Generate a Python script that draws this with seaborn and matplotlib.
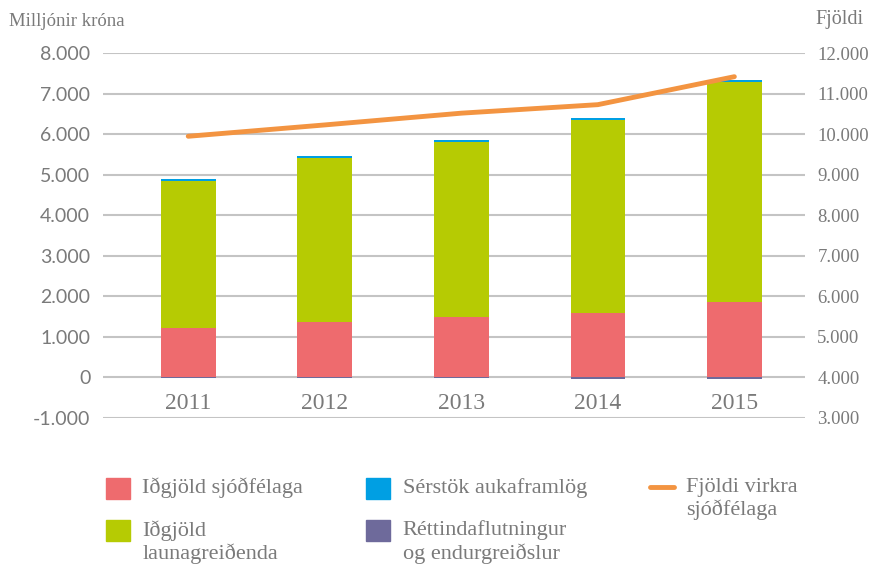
import seaborn as sns
import matplotlib.pyplot as plt
import matplotlib.ticker as mticker
from matplotlib.patches import Patch
from matplotlib.lines import Line2D
import pandas as pd

# values (millions of kronur / count)
years = ["2011", "2012", "2013", "2014", "2015"]
idgjold_sjodfelaga = [1230, 1380, 1480, 1600, 1850]
idgjold_launagreidenda = [3620, 4030, 4330, 4750, 5430]
serstok_aukaframlog = [55, 50, 50, 60, 60]
rettindaflutningur = [-10, -10, -10, -30, -30]
fjoldi_virkra = [9950, 10230, 10520, 10730, 11420]

red = "#EE6B6E"
green = "#B6CB03"
blue = "#009FE3"
purple = "#6E6A9B"
orange = "#F39441"
grey = "#7a7a7a"
serif = "Liberation Serif"

df = pd.DataFrame({
    "ar": years,
    "sjod": idgjold_sjodfelaga,
    "laun": idgjold_launagreidenda,
    "serst": serstok_aukaframlog,
    "rett": rettindaflutningur,
})
df["bottom_laun"] = df["sjod"]
df["bottom_serst"] = df["sjod"] + df["laun"]

sns.set_style("white")
fig = plt.figure(figsize=(8.71, 5.70), dpi=100)
ax = fig.add_axes([0.118, 0.2667, 0.806, 0.640])

w = 0.4
bar_kw = dict(width=w, saturation=1, ax=ax, zorder=3, linewidth=0, edgecolor="none")
sns.barplot(data=df, x="ar", y="sjod", color=red, **bar_kw)
sns.barplot(data=df, x="ar", y="laun", bottom=df["bottom_laun"], color=green, **bar_kw)
sns.barplot(data=df, x="ar", y="serst", bottom=df["bottom_serst"], color=blue, **bar_kw)
sns.barplot(data=df, x="ar", y="rett", color=purple, **bar_kw)

ax.set_ylim(-1000, 8000)
ax.set_xlim(-0.626, 4.516)
ax.yaxis.set_major_locator(mticker.MultipleLocator(1000))
fmt = mticker.FuncFormatter(lambda v, p: f"{v:,.0f}".replace(",", "."))
ax.yaxis.set_major_formatter(fmt)
ax.grid(axis="y", color="#c4c4c4", linewidth=1.5, zorder=0)
ax.set_axisbelow(True)
for s in ax.spines.values():
    s.set_visible(False)
ax.spines["bottom"].set_position(("data", 0))
ax.set_xlabel("")
ax.set_ylabel("")
ax.tick_params(axis="x", length=0, pad=11, labelsize=17, labelcolor=grey)
ax.tick_params(axis="y", length=0, pad=9, labelsize=14, labelcolor=grey)
for t in ax.get_xticklabels():
    t.set_fontfamily(serif)
for t in ax.get_yticklabels():
    t.set_fontfamily("Lato")

ax2 = ax.twinx()
sns.lineplot(x=list(range(len(years))), y=fjoldi_virkra, color=orange, linewidth=3.5,
             ax=ax2, zorder=4)
ax2.set_ylim(3000, 12000)
ax2.yaxis.set_major_locator(mticker.MultipleLocator(1000))
ax2.yaxis.set_major_formatter(fmt)
for s in ax2.spines.values():
    s.set_visible(False)
ax2.tick_params(axis="y", length=0, pad=9, labelsize=13.5, labelcolor=grey)
for t in ax2.get_yticklabels():
    t.set_fontfamily(serif)
ax2.grid(False)

fig.text(0.010, 0.962, "Milljónir króna", fontsize=13.5, color=grey, family=serif, va="center")
fig.text(0.936, 0.965, "Fjöldi", fontsize=14.5, color=grey, family=serif, va="center")

handles = [
    Patch(color=red, label="Iðgjöld sjóðfélaga"),
    Patch(color=green, label="Iðgjöld\nlaunagreiðenda"),
    Patch(color=blue, label="Sérstök aukaframlög"),
    Patch(color=purple, label="Réttindaflutningur\nog endurgreiðslur"),
    Line2D([0], [0], color=orange, linewidth=3.5, label="Fjöldi virkra\nsjóðfélaga"),
]
fs = 16
leg = fig.legend(handles=handles, ncol=3, loc="upper left", bbox_to_anchor=(0.1217, 0.162),
                 frameon=False, prop={"family": serif, "size": fs}, labelcolor=grey,
                 handlelength=1.08, handleheight=1.1, handletextpad=0.55,
                 columnspacing=2.85, labelspacing=0.95, borderpad=0, borderaxespad=0)
for t in leg.get_texts():
    t.set_linespacing(1.2)
# handles sit next to the first line of two-line labels, columns start at the top
leg._legend_handle_box.align = "top"
for col in leg._legend_handle_box.get_children():
    for row in col.get_children():
        row.align = "top"

fig.savefig("out.png", dpi=100)
